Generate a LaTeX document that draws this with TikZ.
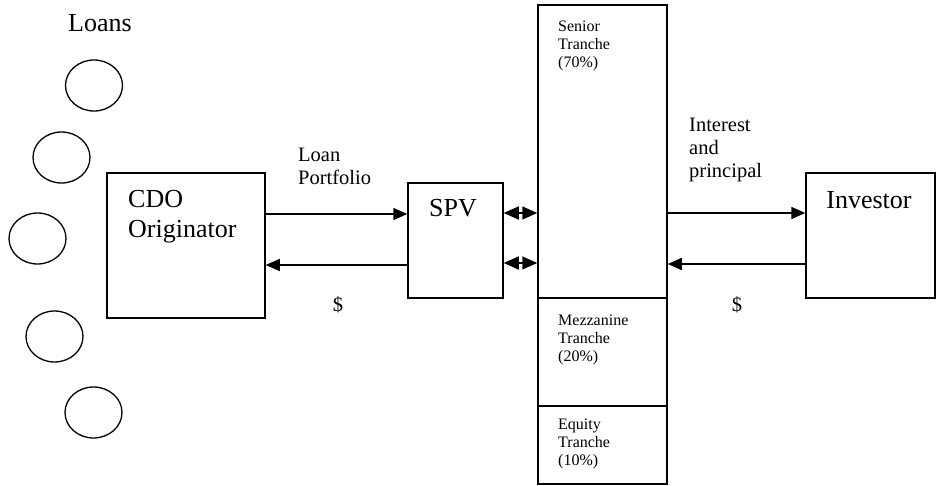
\documentclass[tikz,border=0pt]{standalone}
\usepackage{fontspec}
\setmainfont{Liberation Serif}
\usetikzlibrary{arrows.meta,shapes.geometric}
\tikzset{
  box/.style={draw, line width=1.5pt, inner sep=0pt},
  loan/.style={draw, ellipse, line width=1.3pt, minimum width=57pt, minimum height=51pt, inner sep=0pt},
  flow/.style={line width=1.5pt, -{Triangle[length=14pt,width=12pt]}},
  dflow/.style={line width=1.5pt, {Triangle[length=15pt,width=13pt]}-{Triangle[length=15pt,width=13pt]}},
  big/.style={font=\fontsize{26}{29}\selectfont, inner sep=0pt},
  mid/.style={font=\fontsize{20.5}{23}\selectfont, inner sep=0pt},
  small/.style={font=\fontsize{16}{18}\selectfont, inner sep=0pt},
}
\newcommand{\lines}[1]{\begin{tabular}[t]{@{}l@{}}#1\end{tabular}}
\begin{document}
\begin{tikzpicture}[x=1pt,y=-1pt]
\useasboundingbox (0,0) rectangle (936,486);
% loans
\node[big, anchor=base] (loanslbl) at (100,32) {Loans};
\node[loan] (l1) at (94,85.5) {};
\node[loan] (l2) at (61.5,157.5) {};
\node[loan] (l3) at (37.5,238.5) {};
\node[loan] (l4) at (54.5,336.5) {};
\node[loan] (l5) at (93.5,412.5) {};
% CDO originator
\node[box, minimum width=158pt, minimum height=145pt] (cdo) at (186,245.5) {};
\node[big, anchor=base west] (cdotxt) at (128,208) {\lines{CDO\\Originator}};
% SPV
\node[box, minimum width=95pt, minimum height=115pt] (spv) at (455.5,240.5) {};
\node[big, anchor=base] (spvtxt) at (453,217) {SPV};
% tranches
\node[box, minimum width=129pt, minimum height=293pt] (senior) at (602.5,151.5) {};
\node[box, minimum width=129pt, minimum height=108pt] (mezz) at (602.5,352) {};
\node[box, minimum width=129pt, minimum height=78pt] (equity) at (602.5,445) {};
\node[small, anchor=base west] (srtxt) at (558,32) {\lines{Senior\\Tranche\\(70\%)}};
\node[small, anchor=base west] (mztxt) at (558,325) {\lines{Mezzanine\\Tranche\\(20\%)}};
\node[small, anchor=base west] (eqtxt) at (558,429) {\lines{Equity\\Tranche\\(10\%)}};
% investor
\node[box, minimum width=129pt, minimum height=125pt] (inv) at (870.5,235.5) {};
\node[big, anchor=base] (invtxt) at (869,209) {Investor};
% connectors
\draw[flow] (cdo.east |- 0,214) -- (spv.west |- 0,214);
\draw[flow] (spv.west |- 0,265) -- (cdo.east |- 0,265);
\draw[dflow] (spv.east |- 0,213) -- (senior.west |- 0,213);
\draw[dflow] (spv.east |- 0,263) -- (senior.west |- 0,263);
\draw[flow] (senior.east |- 0,213) -- (inv.west |- 0,213);
\draw[flow] (inv.west |- 0,264) -- (senior.east |- 0,264);
% labels
\node[mid, anchor=base west] (lplbl) at (298,162) {\lines{Loan\\Portfolio}};
\node[mid, anchor=base west] (iplbl) at (689,132) {\lines{Interest\\and\\principal}};
\node[mid] (d1) at (338,305) {\$};
\node[mid] (d2) at (737,305) {\$};
\end{tikzpicture}
\end{document}
